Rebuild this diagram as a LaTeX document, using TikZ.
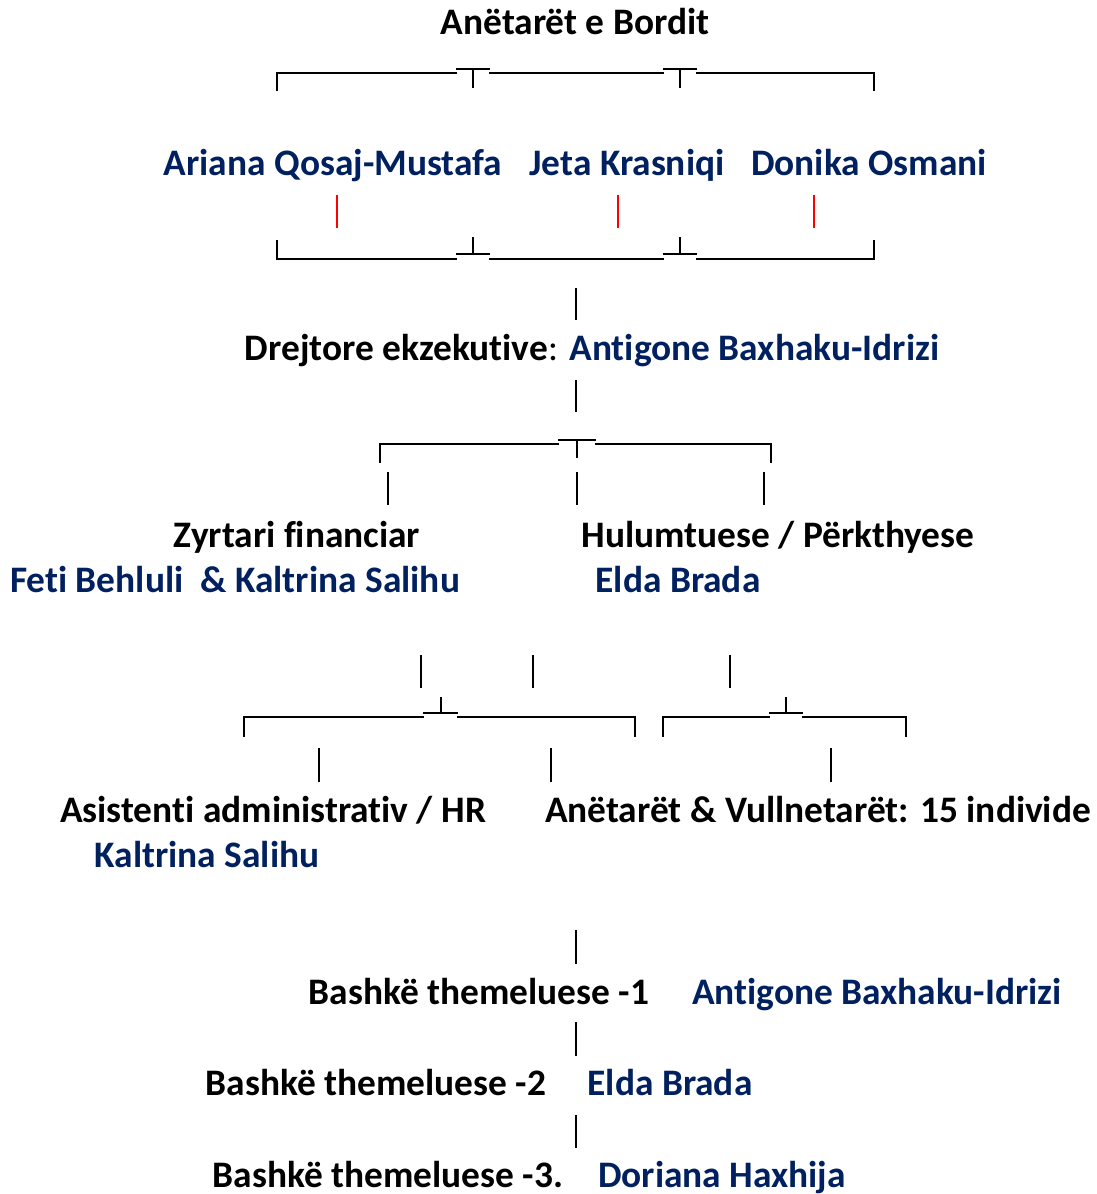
\documentclass[tikz,border=0pt]{standalone}
\usepackage{fontspec}
\setmainfont{Carlito}[Ligatures=NoCommon]
\usetikzlibrary{positioning}
\definecolor{navy}{HTML}{002060}
\tikzstyle{role}=[
	inner sep=0pt,
	anchor=base,
	font=\fontsize{18.7pt}{21pt}\selectfont\bfseries
]
\tikzstyle{person}=[
	role,
	text=navy
]
\tikzstyle{bracket}=[
	line width=1.1pt,
	line cap=rect
]
\tikzstyle{tee}=[
	line width=0.7pt
]
\tikzstyle{stem}=[
	line width=1.1pt
]

\begin{document}
\begin{tikzpicture}[x=0.5pt,y=-0.5pt]
\useasboundingbox (0,0) rectangle (1097,1194);
% board
\node [role] (Board) at (575,34) {Anëtarët e Bordit};
\draw [bracket] (277,90) -- (277,73) -- (456,73) (490,73) -- (663,73) (697,73) -- (874,73) -- (874,90);
\draw [tee] (456,69) -- (490,69) (473,69) -- (473,88) (663,69) -- (697,69) (680,69) -- (680,88);
\node [person] (Ariana) at (333,175) {Ariana Qosaj-Mustafa};
\node [person] (Jeta) at (627,175) {Jeta Krasniqi};
\node [person] (Donika) at (869,175) {Donika Osmani};
\draw [red, line width=1pt] (337,195) -- (337,228) (618,195) -- (618,228) (814,195) -- (814,228);
\draw [bracket] (277,241) -- (277,259) -- (456,259) (490,259) -- (663,259) (697,259) -- (874,259) -- (874,241);
\draw [tee] (456,254) -- (490,254) (473,237) -- (473,254) (663,254) -- (697,254) (680,237) -- (680,254);
% director
\draw [stem] (576,288) -- (576,320);
\node [role] (Director) at (592,360) {Drejtore ekzekutive\textmd{:} \textcolor{navy}{Antigone Baxhaku-Idrizi}};
\draw [stem] (576,380) -- (576,412);
\draw [bracket] (380,462) -- (380,444) -- (558,444) (596,444) -- (771,444) -- (771,462);
\draw [tee] (558,440) -- (596,440) (577,440) -- (577,458);
\draw [stem] (388,472) -- (388,505) (577,472) -- (577,505) (764,472) -- (764,505);
% staff
\node [role] (Finance) at (297,547) {Zyrtari financiar};
\node [person] (FinanceNames) at (235,592) {Feti Behluli\ \ \& Kaltrina Salihu};
\node [role] (Research) at (778,547) {Hulumtuese / Përkthyese};
\node [person] (ResearchName) at (678,592) {Elda Brada};
\draw [stem] (421,655) -- (421,688) (533,655) -- (533,688) (730,655) -- (730,688);
\draw [bracket] (244,736) -- (244,717) -- (423,717) (458,717) -- (635,717) -- (635,736);
\draw [tee] (423,713) -- (458,713) (441,697) -- (441,713);
\draw [bracket] (663,736) -- (663,717) -- (769,717) (803,717) -- (906,717) -- (906,736);
\draw [tee] (769,713) -- (803,713) (786,697) -- (786,713);
\draw [stem] (319,748) -- (319,782) (551,748) -- (551,782) (831,748) -- (831,782);
\node [role] (Admin) at (273,822) {Asistenti administrativ / HR};
\node [person] (AdminName) at (207,867) {Kaltrina Salihu};
\node [role] (Members) at (818,822) {Anëtarët \& Vullnetarët: 15 individe};
% founders
\draw [stem] (576,930) -- (576,964);
\node [role] (Founder1) at (479,1004) {Bashkë themeluese -1};
\node [person] (Founder1Name) at (877,1004) {Antigone Baxhaku-Idrizi};
\draw [stem] (576,1022) -- (576,1056);
\node [role] (Founder2) at (376,1095) {Bashkë themeluese -2};
\node [person] (Founder2Name) at (670,1095) {Elda Brada};
\draw [stem] (576,1115) -- (576,1148);
\node [role] (Founder3) at (388,1187) {Bashkë themeluese -3.};
\node [person] (Founder3Name) at (722,1187) {Doriana Haxhija};
\end{tikzpicture}
\end{document}
